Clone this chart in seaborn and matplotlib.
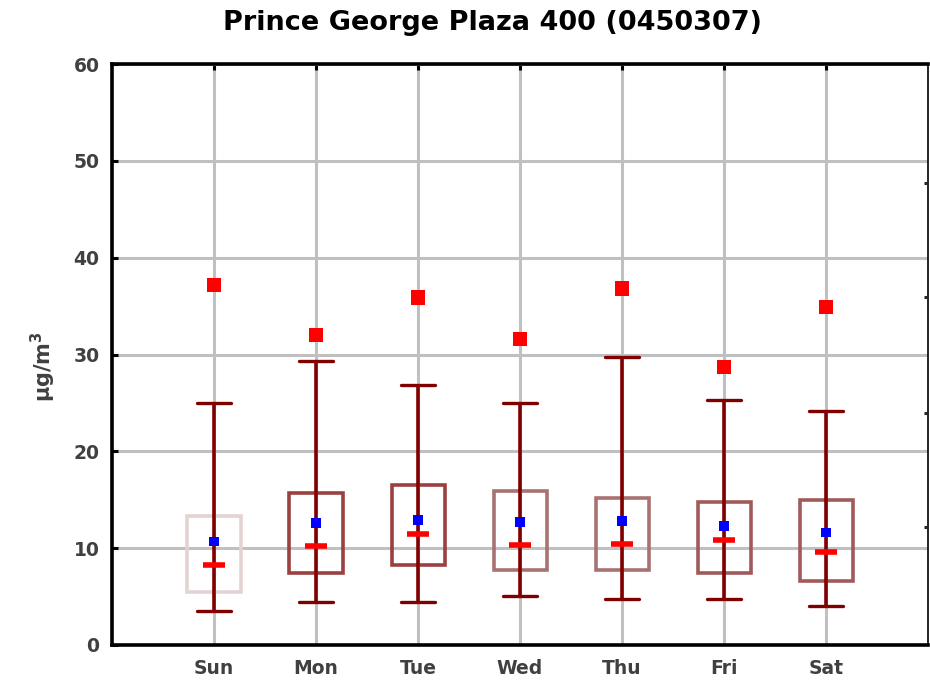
import numpy as np
import pandas as pd
import matplotlib
matplotlib.use('Agg')
import matplotlib.pyplot as plt
import seaborn as sns

# values (ug/m3)
days = ['Sun', 'Mon', 'Tue', 'Wed', 'Thu', 'Fri', 'Sat']
whisker_low = [3.5, 4.4, 4.4, 5.1, 4.7, 4.7, 4.0]
q1 = [5.5, 7.4, 8.3, 7.7, 7.7, 7.4, 6.6]
medians = [8.3, 10.2, 11.5, 10.3, 10.4, 10.8, 9.6]
means = [10.7, 12.6, 12.9, 12.7, 12.8, 12.3, 11.6]
q3 = [13.3, 15.7, 16.5, 15.9, 15.2, 14.8, 15.0]
whisker_high = [25.0, 29.3, 26.9, 25.0, 29.7, 25.3, 24.2]
maxima = [37.2, 32.0, 35.9, 31.6, 36.8, 28.7, 34.9]
right_ticks = [12.2, 24.0, 35.9, 47.7]

sns.set_style('white')
plt.rcParams['font.family'] = ['DejaVu Sans']
plt.rcParams['mathtext.default'] = 'bf'

df = pd.DataFrame({'day': days, 'low': whisker_low, 'q1': q1, 'med': medians,
                   'mean': means, 'q3': q3, 'high': whisker_high, 'max': maxima})
pos = np.arange(len(days))

fig = plt.figure(figsize=(9.3, 6.81), dpi=100)
ax = fig.add_axes([0.1204, 0.0529, 0.8776, 0.853])

# grid
ax.set_axisbelow(True)
ax.grid(True, color='#c0c0c0', linewidth=2.2)

# whisker line running through the box
ax.vlines(pos, df['low'], df['high'], color='#800000', linewidth=2.6, zorder=3)

# boxes and caps
stats = []
for i, r in df.iterrows():
    stats.append({'whislo': r['low'], 'q1': r['q1'], 'med': r['med'],
                  'q3': r['q3'], 'whishi': r['high'], 'fliers': []})
box_edges = ['#e3d3d3', '#9a4040', '#9a4040', '#a87272', '#a87272', '#a05a5a', '#a05a5a']
bp = ax.bxp(stats, positions=pos, widths=0.52, showcaps=True, showfliers=False,
            patch_artist=True, manage_ticks=False,
            boxprops=dict(facecolor='none', linewidth=2.6),
            whiskerprops=dict(linewidth=0),
            capprops=dict(color='#800000', linewidth=2.4),
            medianprops=dict(linewidth=0),
            capwidths=0.33)
for patch, c in zip(bp['boxes'], box_edges):
    patch.set_edgecolor(c)
    patch.set_zorder(2.5)
for cap in bp['caps']:
    cap.set_zorder(3)

# median dashes
ax.hlines(df['med'], pos - 0.11, pos + 0.11, color='red', linewidth=4, zorder=4)

# means and maxima
sns.scatterplot(x=pos, y=df['mean'], marker='s', s=45, color='blue',
                edgecolor='none', ax=ax, zorder=5)
sns.scatterplot(x=pos, y=df['max'], marker='s', s=110, color='red',
                edgecolor='none', ax=ax, zorder=5)

ax.set_xlim(-1, 7)
ax.set_ylim(0, 60)
ax.set_xticks(pos)
ax.set_xticklabels(days)
ax.set_yticks(np.arange(0, 61, 10))
ax.tick_params(axis='both', direction='in', length=4, width=2.2, colors='black',
               labelcolor='#404040', labelsize=13.5, top=True)
ax.tick_params(axis='x', pad=10)
ax.tick_params(axis='y', pad=9)
for lab in ax.get_xticklabels() + ax.get_yticklabels():
    lab.set_fontweight('bold')

for side in ['left', 'bottom', 'top']:
    ax.spines[side].set_linewidth(2.6)
    ax.spines[side].set_color('black')
ax.spines['right'].set_linewidth(1.2)
ax.spines['right'].set_color('black')

ax2 = ax.twinx()
ax2.set_ylim(0, 60)
ax2.set_yticks(right_ticks)
ax2.set_yticklabels([])
ax2.tick_params(axis='y', direction='in', length=3, width=2.2)
for s in ax2.spines.values():
    s.set_visible(False)

ax.set_xlabel('')
ax.set_ylabel('μg/m$^3$', fontsize=15, fontweight='bold', color='#404040')
ax.yaxis.set_label_coords(-0.066, 0.48)
fig.suptitle('Prince George Plaza 400 (0450307)', fontsize=19.5, fontweight='bold',
             color='black', x=0.53, y=0.985)

fig.savefig('out.png', dpi=100)
